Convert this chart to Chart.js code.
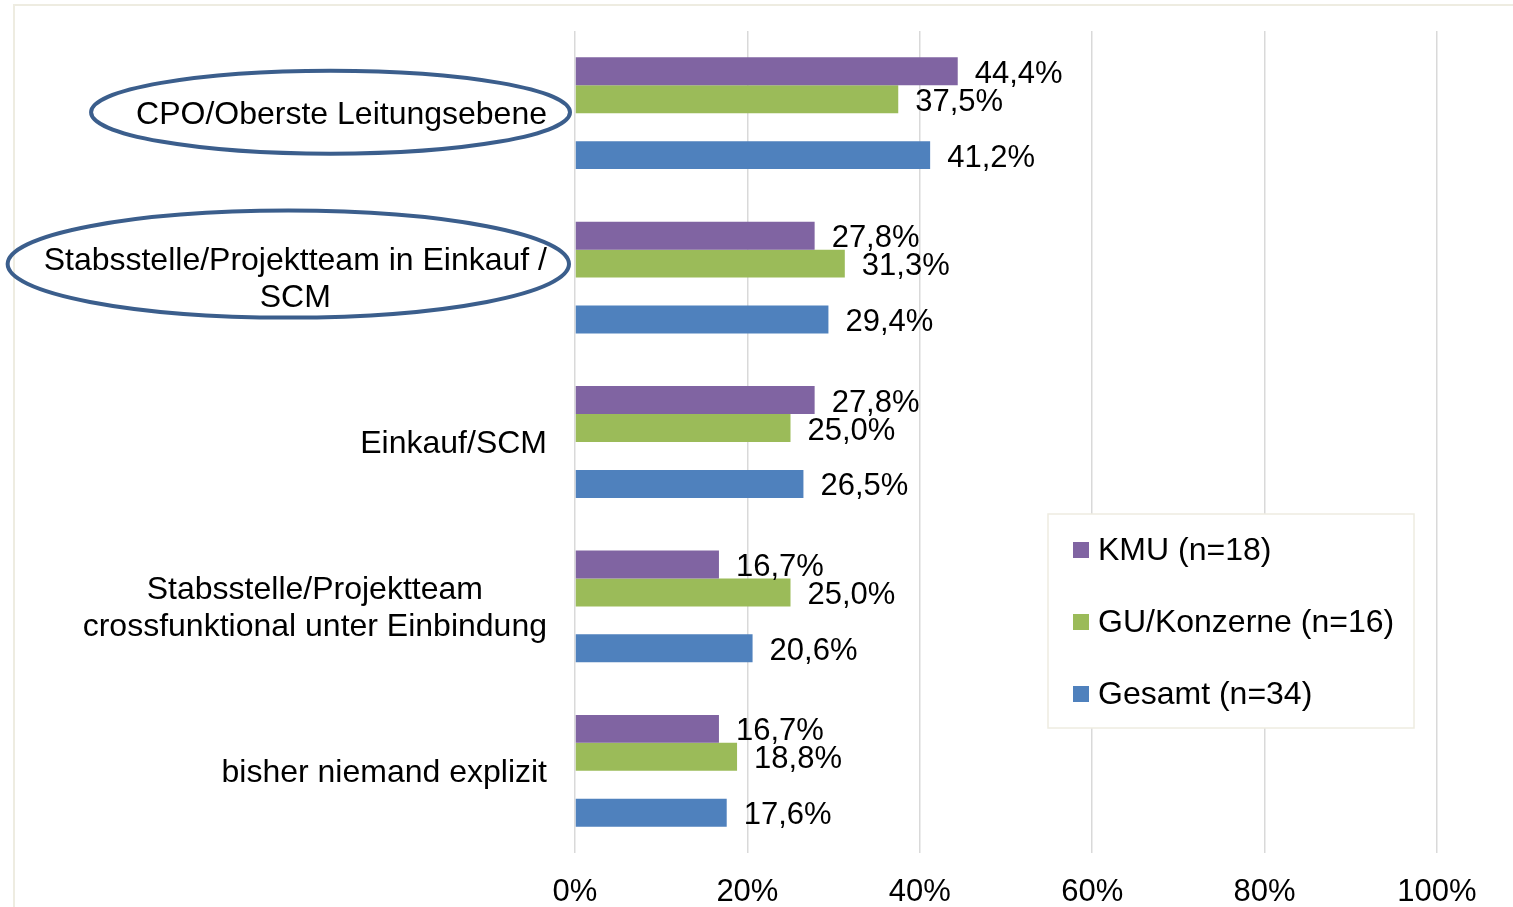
<!DOCTYPE html>
<html>
<head>
<meta charset="utf-8">
<script src="https://cdn.jsdelivr.net/npm/chart.js@4.4.1/dist/chart.umd.min.js"></script>
<style>
  html, body { margin: 0; padding: 0; background: #ffffff; }
  #wrap { width: 1513px; height: 907px; position: relative; }
</style>
</head>
<body>
<div id="wrap"><canvas id="c" width="1513" height="907"></canvas></div>
<script>
// ---- data ----
const categories = [
  ['CPO/Oberste Leitungsebene'],
  ['Stabsstelle/Projektteam in Einkauf /', 'SCM'],
  ['Einkauf/SCM'],
  ['Stabsstelle/Projektteam', 'crossfunktional unter Einbindung'],
  ['bisher niemand explizit']
];
const seriesNames = ['KMU (n=18)', 'GU/Konzerne (n=16)', 'Gesamt (n=34)'];
const kmu    = [44.4, 27.8, 27.8, 16.7, 16.7];
const gu     = [37.5, 31.3, 25.0, 25.0, 18.8];
const gesamt = [41.2, 29.4, 26.5, 20.6, 17.6];
const xTicks = [0, 20, 40, 60, 80, 100];
const highlighted = [0, 1];

// ---- styles ----
const FONT = "'Liberation Sans', Arial, sans-serif";
const colors = ['#8064A2', '#9BBB59', '#4F81BD'];

const datasets = [
  { label: seriesNames[0], data: kmu, backgroundColor: colors[0] },
  { label: seriesNames[1], data: gu, backgroundColor: colors[1] },
  { label: '', data: categories.map(() => null), backgroundColor: 'rgba(0,0,0,0)' }, // empty gap slot
  { label: seriesNames[2], data: gesamt, backgroundColor: colors[2] }
];

const frame = {
  id: 'frame',
  beforeDraw(chart) {
    const ctx = chart.ctx;
    ctx.save();
    ctx.strokeStyle = '#EEECE1';
    ctx.lineWidth = 2;
    ctx.beginPath();
    ctx.moveTo(14, chart.height);
    ctx.lineTo(14, 5);
    ctx.lineTo(chart.width, 5);
    ctx.stroke();
    ctx.restore();
  }
};

const categoryLabels = {
  id: 'categoryLabels',
  afterDraw(chart) {
    const ctx = chart.ctx;
    const y = chart.scales.y;
    const right = chart.chartArea.left - 28;
    const lh = 37;
    ctx.save();
    ctx.font = '32px ' + FONT;
    ctx.fillStyle = '#000000';
    ctx.textBaseline = 'middle';
    ctx.textAlign = 'center';
    categories.forEach((lines, i) => {
      const cy = y.getPixelForValue(i);
      const widest = Math.max(...lines.map(l => ctx.measureText(l).width));
      const cx = right - widest / 2;
      const y0 = cy + 2 - (lines.length - 1) * lh / 2;
      lines.forEach((l, k) => ctx.fillText(l, cx, y0 + k * lh));
      if (highlighted.includes(i)) {
        const ann = i === 0
          ? { padL: 45, padR: 23, dy: -1, ry: 41.5 }
          : { padL: 36, padR: 22, dy: -13.5, ry: 53.5 };
        const left = right - widest - ann.padL;
        const rgt = right + ann.padR;
        ctx.save();
        ctx.strokeStyle = '#3B5E8C';
        ctx.lineWidth = 4;
        ctx.beginPath();
        ctx.ellipse((left + rgt) / 2, cy + ann.dy, (rgt - left) / 2, ann.ry, 0, 0, Math.PI * 2);
        ctx.stroke();
        ctx.restore();
      }
    });
    ctx.restore();
  }
};

const valueLabels = {
  id: 'valueLabels',
  afterDatasetsDraw(chart) {
    const ctx = chart.ctx;
    ctx.save();
    ctx.font = '31px ' + FONT;
    ctx.fillStyle = '#000000';
    ctx.textAlign = 'left';
    ctx.textBaseline = 'middle';
    chart.data.datasets.forEach((ds, di) => {
      if (!ds.label) return;
      const meta = chart.getDatasetMeta(di);
      meta.data.forEach((bar, i) => {
        const v = ds.data[i];
        if (v == null) return;
        ctx.fillText(v.toFixed(1).replace('.', ',') + '%', bar.x + 17, bar.y + 3);
      });
    });
    ctx.restore();
  }
};

const boxLegend = {
  id: 'boxLegend',
  afterDraw(chart) {
    const ctx = chart.ctx;
    const bx = 1048, by = 514, bw = 366, bh = 214;
    ctx.save();
    ctx.fillStyle = '#ffffff';
    ctx.fillRect(bx, by, bw, bh);
    ctx.strokeStyle = '#EEECE1';
    ctx.lineWidth = 1.5;
    ctx.strokeRect(bx, by, bw, bh);
    ctx.font = '32px ' + FONT;
    ctx.textBaseline = 'middle';
    ctx.textAlign = 'left';
    let k = 0;
    chart.data.datasets.forEach(ds => {
      if (!ds.label) return;
      const cy = by + 35 + k * 72;
      ctx.fillStyle = ds.backgroundColor;
      ctx.fillRect(bx + 25, cy - 7, 16, 16);
      ctx.fillStyle = '#000000';
      ctx.fillText(ds.label, bx + 50, cy + 2);
      k++;
    });
    ctx.restore();
  }
};

new Chart(document.getElementById('c'), {
  type: 'bar',
  data: { labels: categories.map(c => c.join(' ')), datasets },
  options: {
    responsive: false,
    animation: false,
    indexAxis: 'y',
    layout: { padding: { top: 31, right: 76, bottom: 0, left: 0 } },
    datasets: { bar: { categoryPercentage: 0.68, barPercentage: 1.0, borderWidth: 0 } },
    plugins: { legend: { display: false }, tooltip: { enabled: false } },
    scales: {
      x: {
        min: 0, max: 100,
        afterBuildTicks(scale) { scale.ticks = xTicks.map(v => ({ value: v })); },
        afterFit(scale) { scale.height = 54; },
        grid: { color: '#D9D9D9', lineWidth: 1.5, drawTicks: false },
        border: { display: false },
        ticks: {
          padding: 21,
          color: '#000000',
          font: { family: FONT, size: 31, lineHeight: 1.2 },
          callback: v => v + '%'
        }
      },
      y: {
        afterFit(scale) { scale.width = 575; },
        grid: { display: false },
        border: { display: false },
        ticks: { display: false }
      }
    }
  },
  plugins: [frame, valueLabels, categoryLabels, boxLegend]
});
</script>
</body>
</html>
